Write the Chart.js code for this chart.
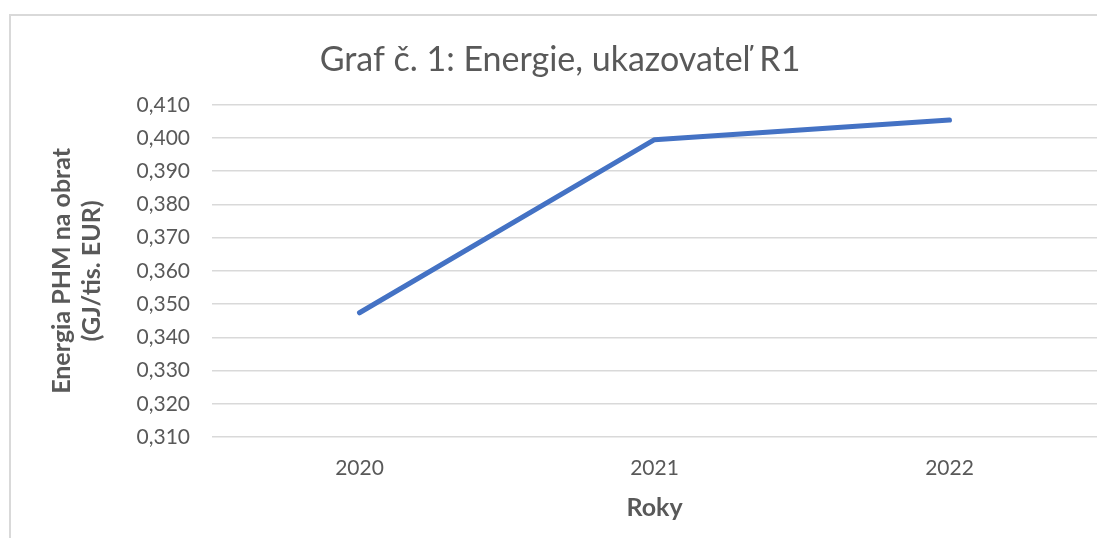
<!DOCTYPE html>
<html>
<head>
<meta charset="utf-8">
<script src="https://cdn.jsdelivr.net/npm/chart.js@4"></script>
<style>
  html, body { margin: 0; padding: 0; background: #fff; overflow: hidden; }
  #wrap { position: relative; width: 1097px; height: 538px; overflow: hidden; }
  #frame { position: absolute; left: 9px; top: 14px; right: -40px; bottom: -40px;
           border-left: 2px solid #d9d9d9; border-top: 2px solid #d9d9d9; }
  canvas { position: absolute; left: 0; top: 0; }
</style>
</head>
<body>
<div id="wrap">
  <div id="frame"></div>
  <canvas id="chart" width="1122" height="538"></canvas>
</div>
<script>
    const years = ['2020', '2021', '2022'];
    const energy = [0.3474, 0.3995, 0.4054];
    const yMin = 0.31, yMax = 0.41, yStep = 0.01;

    const txt = '#595959';
    const fam = 'Lato, "Open Sans", sans-serif';

    function fmtTick(v){
      return v.toFixed(3).replace('.', ',');
    }

    const ctx = document.getElementById('chart');
    new Chart(ctx, {
      type: 'line',
      data: {
        labels: years,
        datasets: [{
          data: energy,
          borderColor: '#4472C4',
          borderWidth: 5,
          borderCapStyle: 'round',
          borderJoinStyle: 'round',
          pointRadius: 0,
          tension: 0,
          fill: false
        }]
      },
      options: {
        responsive: false,
        animation: false,
        devicePixelRatio: 1,
        layout: { padding: { left: 23, right: 25, top: 0, bottom: 0 } },
        plugins: {
          legend: { display: false },
          tooltip: { enabled: false },
          title: {
            display: true,
            text: 'Graf č. 1: Energie, ukazovateľ R1',
            color: txt,
            font: { family: fam, size: 34, weight: 'normal', lineHeight: 1.2 },
            padding: { top: 40, bottom: 24 }
          }
        },
        scales: {
          x: {
            offset: true,
            grid: { display: false, drawTicks: false },
            border: { display: false },
            ticks: { color: txt, font: { family: fam, size: 21 }, padding: 19 },
            title: {
              display: true, text: 'Roky', color: txt,
              font: { family: fam, size: 25, weight: 'bold', lineHeight: 1.2 },
              padding: { top: 0, bottom: 15 }
            },
            afterFit: s => { s.height = 101; }
          },
          y: {
            min: yMin, max: yMax,
            grid: { color: '#d9d9d9', lineWidth: 1.5, drawTicks: false },
            border: { display: false },
            ticks: { stepSize: yStep, color: txt, font: { family: fam, size: 21 }, padding: 22,
                     callback: v => fmtTick(v) },
            title: {
              display: true, text: ['Energia PHM na obrat', '(GJ/tis. EUR)'], color: txt,
              font: { family: fam, size: 25, weight: 'bold', lineHeight: 1.2 },
              padding: { top: 24, bottom: 0 }
            },
            afterFit: s => { s.width = 189; }
          }
        }
      }
    });
</script>
</body>
</html>
